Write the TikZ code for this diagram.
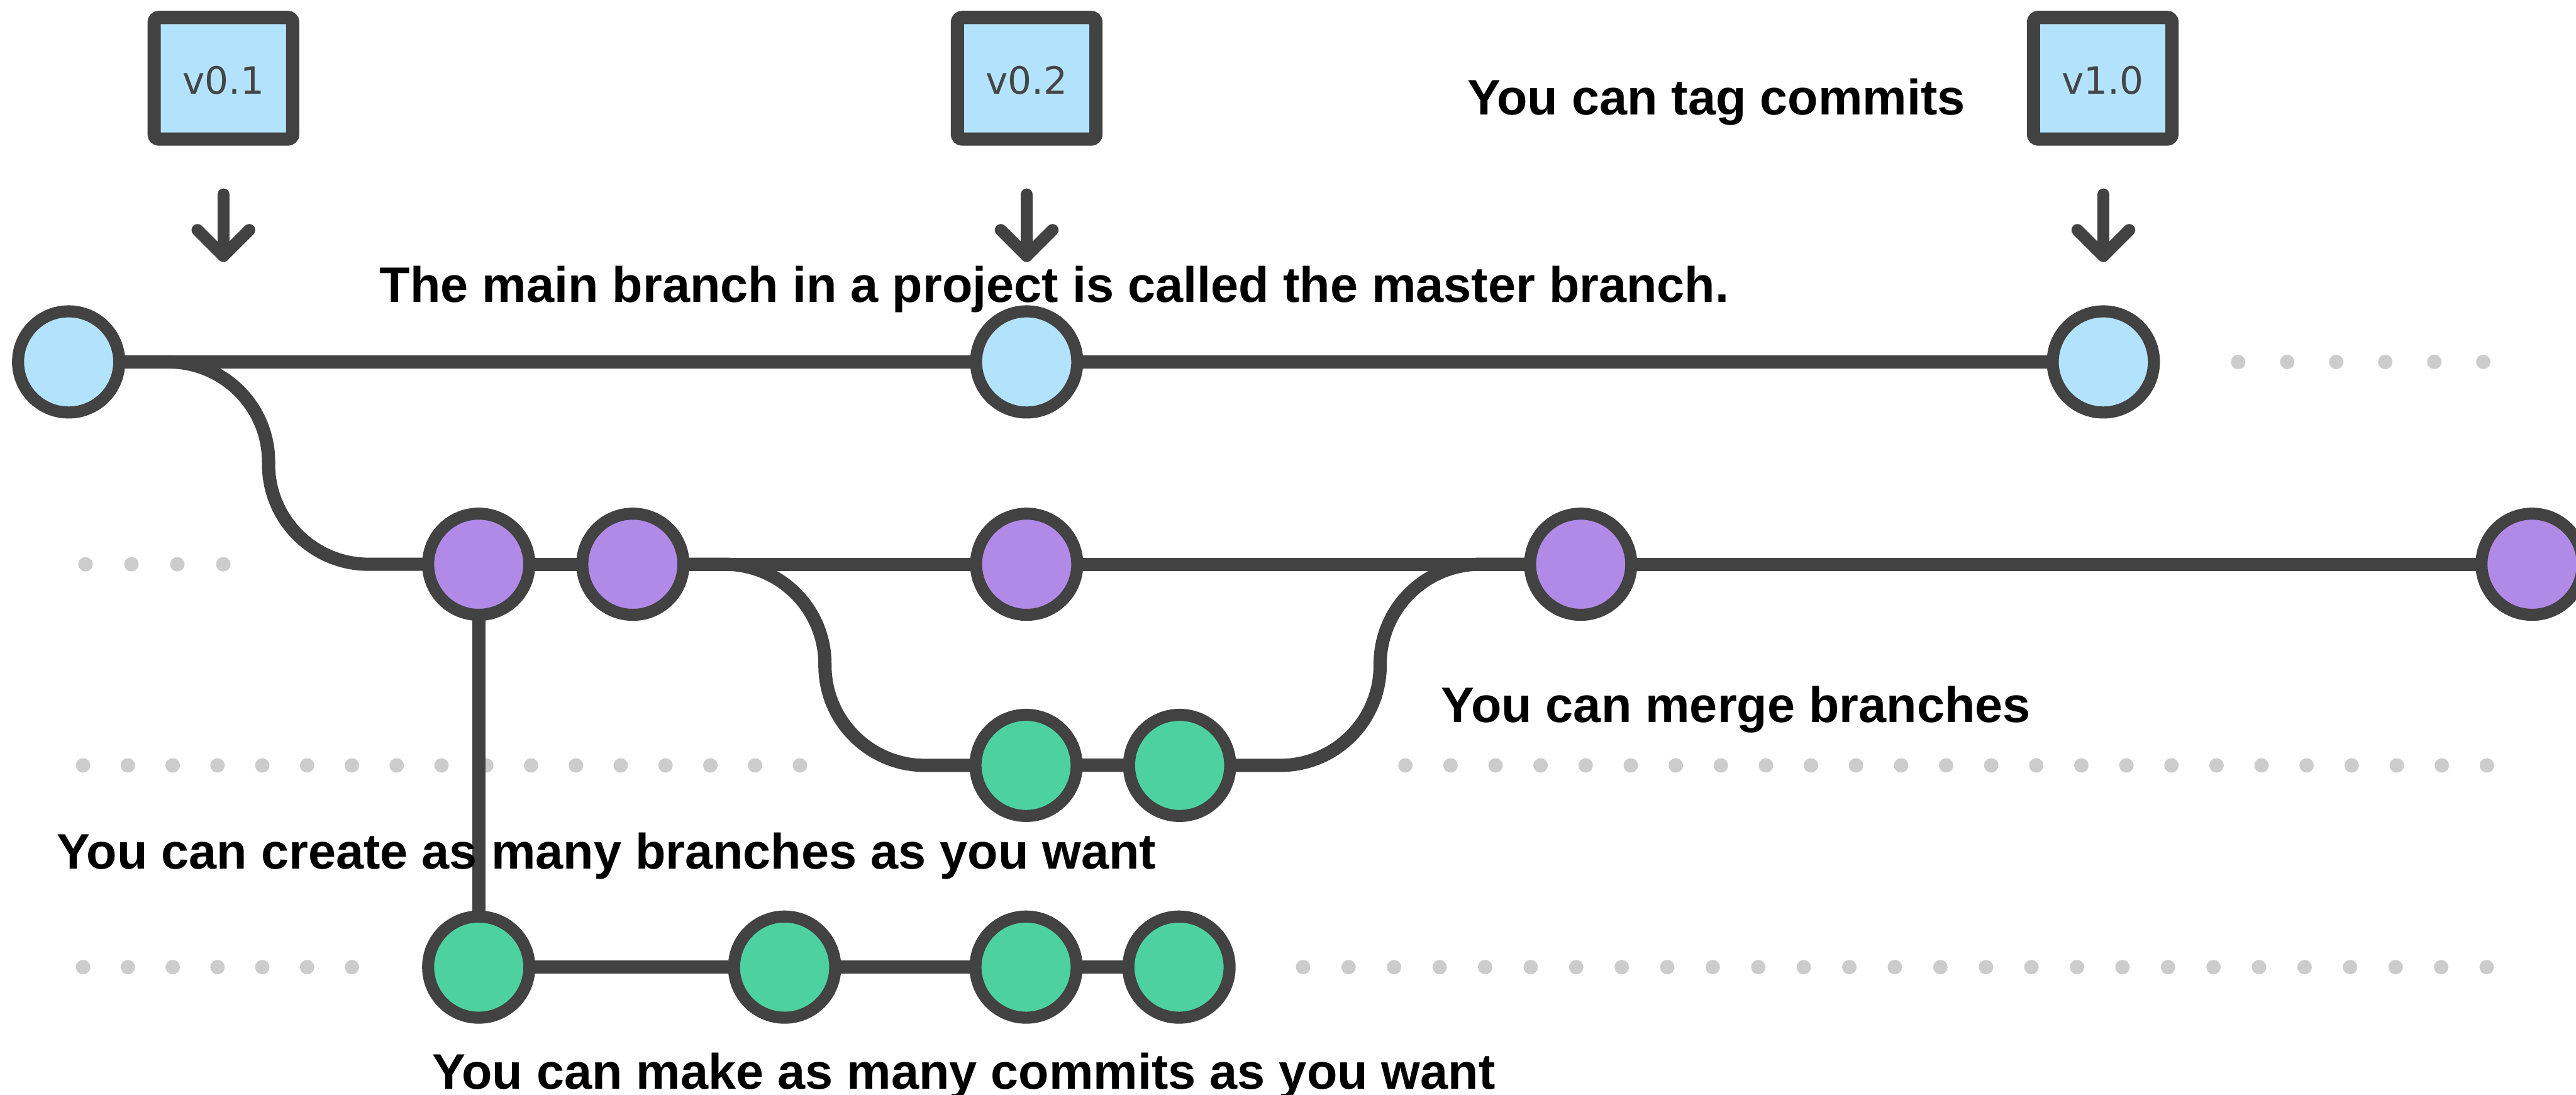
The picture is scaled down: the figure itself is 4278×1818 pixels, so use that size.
\documentclass[tikz,border=0pt]{standalone}
\usepackage{fontspec}
\setmainfont{Liberation Sans}
\newfontfamily\tagfont{DejaVu Sans}
\usetikzlibrary{calc}
\pgfdeclarelayer{bg}
\pgfsetlayers{bg,main}
\definecolor{ink}{HTML}{424242}
\definecolor{cblue}{HTML}{B3E3FC}
\definecolor{cpurple}{HTML}{B18AE8}
\definecolor{cgreen}{HTML}{4ED1A1}
\definecolor{dotgray}{HTML}{CCCCCC}
\definecolor{tagtext}{HTML}{454545}
\begin{document}
\begin{tikzpicture}[x=0.25pt,y=-0.25pt,
  commit/.style={circle, draw=ink, line width=5pt, minimum size=42pt, inner sep=0pt},
  mcommit/.style={commit, fill=cblue},
  pcommit/.style={commit, fill=cpurple},
  gcommit/.style={commit, fill=cgreen},
  edge/.style={draw=ink, line width=5.5pt},
  curvedge/.style={edge, rounded corners=41.5pt},
  tagbox/.style={rectangle, draw=ink, fill=cblue, line width=5.5pt, rounded corners=2pt,
    minimum width=57.5pt, minimum height=50.5pt, inner sep=0pt},
  tagtxt/.style={font=\tagfont\fontsize{15.6pt}{15.6pt}\selectfont, text=tagtext, inner sep=0pt, anchor=base},
  pointer/.style={draw=ink, line width=5pt, line cap=round, line join=round},
  graydot/.style={fill=dotgray},
  note/.style={font=\fontsize{20.7pt}{25pt}\selectfont\bfseries, anchor=base west, inner sep=0pt, text=black}
]
\useasboundingbox (0,0) rectangle (4278,1818);

% commits
\node[mcommit] (m1) at (114,601) {};
\node[mcommit] (m2) at (1705,601) {};
\node[mcommit] (m3) at (3493,601) {};
\node[pcommit] (p1) at (795,937) {};
\node[pcommit] (p2) at (1051,937) {};
\node[pcommit] (p3) at (1705,937) {};
\node[pcommit] (p4) at (2625,937) {};
\node[pcommit] (p5) at (4205,937) {};
\node[gcommit] (g1) at (1704,1271) {};
\node[gcommit] (g2) at (1959,1271) {};
\node[gcommit] (g3) at (795,1606) {};
\node[gcommit] (g4) at (1303,1606) {};
\node[gcommit] (g5) at (1704,1606) {};
\node[gcommit] (g6) at (1958,1606) {};

% corner points of the branch curves
\coordinate (b1a) at (446,601);
\coordinate (b1b) at (446,937);
\coordinate (b2a) at (1370,937);
\coordinate (b2b) at (1370,1271);
\coordinate (b3a) at (2292,1271);
\coordinate (b3b) at (2292,937);

\begin{pgfonlayer}{bg}
  % dotted continuations
  \foreach \i in {0,...,5} {\fill[graydot] ({3717+81.4*\i},601) circle[radius=3pt];}
  \foreach \i in {0,...,3} {\fill[graydot] ({142+76.3*\i},937) circle[radius=3pt];}
  \foreach \i in {0,...,16} {\fill[graydot] ({138+74.4*\i},1271) circle[radius=3pt];}
  \foreach \i in {0,...,24} {\fill[graydot] ({2334+74.83*\i},1271) circle[radius=3pt];}
  \foreach \i in {0,...,6} {\fill[graydot] ({138+74.4*\i},1606) circle[radius=3pt];}
  \foreach \i in {0,...,26} {\fill[graydot] ({2164+75.6*\i},1606) circle[radius=3pt];}
  % branch lines
  \draw[edge] (m1.center) -- (m2.center) -- (m3.center);
  \draw[curvedge] (m1.center) -- (b1a) -- (b1b) -- (p1.center);
  \draw[edge] (p1.center) -- (p2.center) -- (p3.center) -- (p4.center) -- (p5.center);
  \draw[curvedge] (p2.center) -- (b2a) -- (b2b) -- (g1.center);
  \draw[edge] (g1.center) -- (g2.center);
  \draw[curvedge] (g2.center) -- (b3a) -- (b3b) -- (p4.center);
  \draw[edge] (p1.center) -- (g3.center);
  \draw[edge] (g3.center) -- (g4.center) -- (g5.center) -- (g6.center);
\end{pgfonlayer}

% tags
\node[tagbox] (v1) at (371,130) {};
\node[tagbox] (v2) at (1705,130) {};
\node[tagbox] (v3) at (3492,130) {};
\node[tagtxt] (v1t) at (371,156) {v0.1};
\node[tagtxt] (v2t) at (1705,156) {v0.2};
\node[tagtxt] (v3t) at (3492,156) {v1.0};

% tag pointers
\foreach \n/\x in {1/371, 2/1705, 3/3493} {
  \coordinate (s\n) at (\x,323);
  \coordinate (e\n) at (\x,425);
  \draw[pointer] (s\n) -- (e\n);
  \draw[pointer] (e\n) ++(-43,-43) -- (e\n) -- ++(43,-43);
}

% texts
\node[note] (t1) at (630,502) {The main branch in a project is called the master branch.};
\node[note] (t2) at (2436,191) {You can tag commits};
\node[note] (t3) at (2393,1200) {You can merge branches};
\node[note] (t4) at (94,1443) {You can create as many branches as you want};
\node[note] (t5) at (717,1808) {You can make as many commits as you want};
\end{tikzpicture}
\end{document}
